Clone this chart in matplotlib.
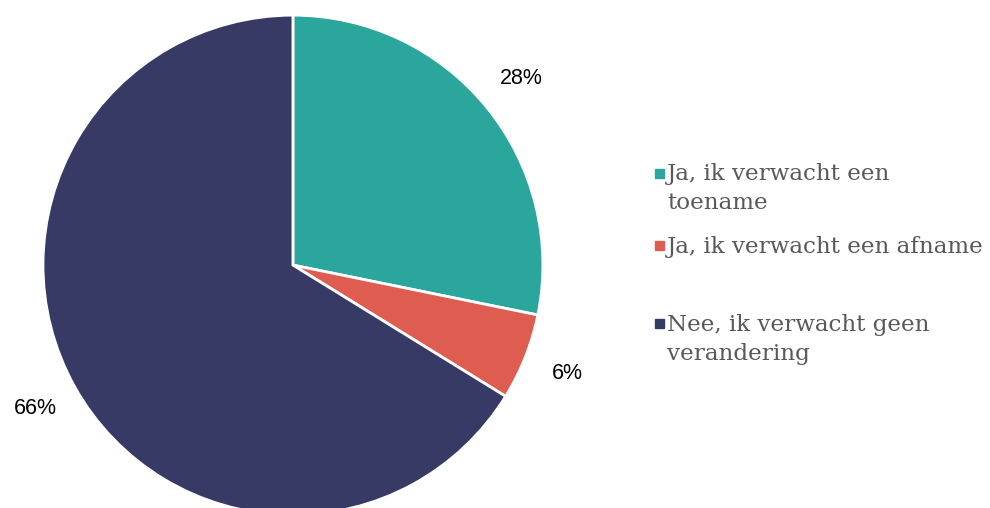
import matplotlib.pyplot as plt
from matplotlib.patches import Rectangle

# Data
labels = ['Ja, ik verwacht een\ntoename', 'Ja, ik verwacht een afname',
          'Nee, ik verwacht geen\nverandering']
shares = [28.2, 5.6, 66.2]
colors = ['#2aa69c', '#de5c50', '#383a66']

fig = plt.figure(figsize=(9.9, 5.08), dpi=100)
ax = fig.add_axes([0.0434, -0.0138, 0.505, 0.984])

wedges, texts, autotexts = ax.pie(
    shares, colors=colors, startangle=90, counterclock=False,
    autopct='%.0f%%', pctdistance=1.18, radius=1,
    wedgeprops=dict(edgecolor='white', linewidth=2),
    textprops=dict(fontsize=15.5, family='Liberation Sans', color='black'))
ax.set_xlim(-1, 1)
ax.set_ylim(-1, 1)
ax.set_aspect('equal')
ax.axis('off')

# legend, placed by hand (entries are unevenly spaced)
ys = [0.679, 0.535, 0.382]
marks = [0.659, 0.516, 0.364]
for lab, col, y, m in zip(labels, colors, ys, marks):
    fig.patches.append(Rectangle((0.6616, m - 0.0089), 0.0091, 0.0178,
                                 transform=fig.transFigure, color=col))
    fig.text(0.674, y, lab, va='top', ha='left', fontsize=16.6,
             family='DejaVu Serif', color='#595959', linespacing=1.4)

plt.savefig('out.png')
